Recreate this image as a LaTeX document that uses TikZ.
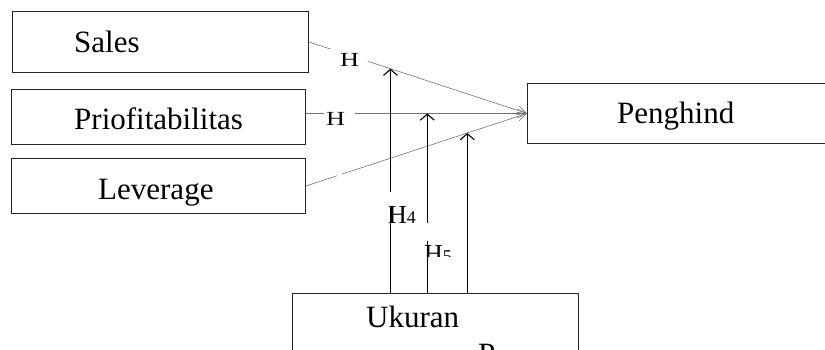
\documentclass[tikz,border=0pt]{standalone}
\usepackage{fontspec}
\setmainfont{Liberation Serif}
\usetikzlibrary{arrows.meta,calc}
\begin{document}
\begin{tikzpicture}[x=1pt,y=-1pt,
  box/.style={draw=black!85, line width=0.9pt, inner sep=0pt, anchor=north west},
  lbl/.style={inner sep=0pt, anchor=base west, font=\fontsize{31}{36}\selectfont},
  gline/.style={draw=black!55, line width=0.6pt},
  garrow/.style={-{Straight Barb[length=9pt,width=9pt,line width=0.6pt]}},
  vline/.style={draw=black, line width=1.1pt},
  varrow/.style={-{Straight Barb[length=6pt,width=14pt,line width=1.1pt]}},
  hlbl/.style={inner sep=0pt, font=\fontsize{25}{27}\selectfont}]
\clip (0,0) rectangle (825,349);
% boxes
\node[box, minimum width=296pt, minimum height=61pt] (sales) at (12,11) {};
\node[box, minimum width=294pt, minimum height=55pt] (prof) at (11,89) {};
\node[box, minimum width=294pt, minimum height=55pt] (lev) at (11,158) {};
\node[box, minimum width=320pt, minimum height=60pt] (peng) at (527,83) {};
\node[box, minimum width=286pt, minimum height=95pt] (uk) at (292,293) {};
% texts
\node[lbl] (tsales) at (74,52) {Sales};
\node[lbl] (tprof) at (74,129) {Priofitabilitas};
\node[lbl] (tlev) at (98,199) {Leverage};
\node[lbl] (tpeng) at (617,123) {Penghind};
\node[lbl] (tuk) at (366,327) {Ukuran};
\node[lbl] (tp) at (478,364) {P};
% gray connectors
\coordinate (pS) at (prof.east |- peng.west);
\draw[gline] (sales.east) -- ($(sales.east)!0.10!(peng.west)$);
\draw[gline,garrow] ($(sales.east)!0.27!(peng.west)$) -- (peng.west);
\node[hlbl] (h1) at (349.5,59.5) {\scalebox{1.05}[0.8]{H}};
\draw[gline] (pS) -- ($(pS)!0.081!(peng.west)$);
\draw[gline,garrow] ($(pS)!0.221!(peng.west)$) -- (peng.west);
\node[hlbl] (h2) at (335.5,118.5) {\scalebox{1.05}[0.8]{H}};
\draw[gline] (lev.east) -- ($(lev.east)!0.14!(peng.west)$);
\draw[gline,garrow] ($(lev.east)!0.162!(peng.west)$) -- (peng.west);
% moderating arrows
\coordinate (t1) at ($(sales.east)!0.374!(peng.west)$);
\coordinate (t2) at ($(pS)!0.549!(peng.west)$);
\coordinate (t3) at ($(lev.east)!0.73!(peng.west)$);
\coordinate (y1a) at (0,192);
\coordinate (y1b) at (0,207);
\coordinate (y2a) at (0,223);
\coordinate (y2b) at (0,241);
\node[inner sep=0pt, anchor=base west] (h4) at (388,223)
  {\fontsize{26}{28}\selectfont H\fontsize{18}{20}\selectfont 4};
\begin{scope}
  \clip (415,240) rectangle (480,256);
  \node[inner sep=0pt, anchor=base west] (h5) at (424,262)
    {\fontsize{26}{28}\selectfont H\fontsize{18}{20}\selectfont 5};
\end{scope}
\draw[vline] (t1 |- uk.north) -- (t1 |- y1b);
\draw[vline,varrow] (t1 |- y1a) -- (t1);
\draw[vline] (t2 |- uk.north) -- (t2 |- y2b);
\draw[vline,varrow] (t2 |- y2a) -- (t2);
\draw[vline,varrow] (t3 |- uk.north) -- (t3);
\end{tikzpicture}
\end{document}
